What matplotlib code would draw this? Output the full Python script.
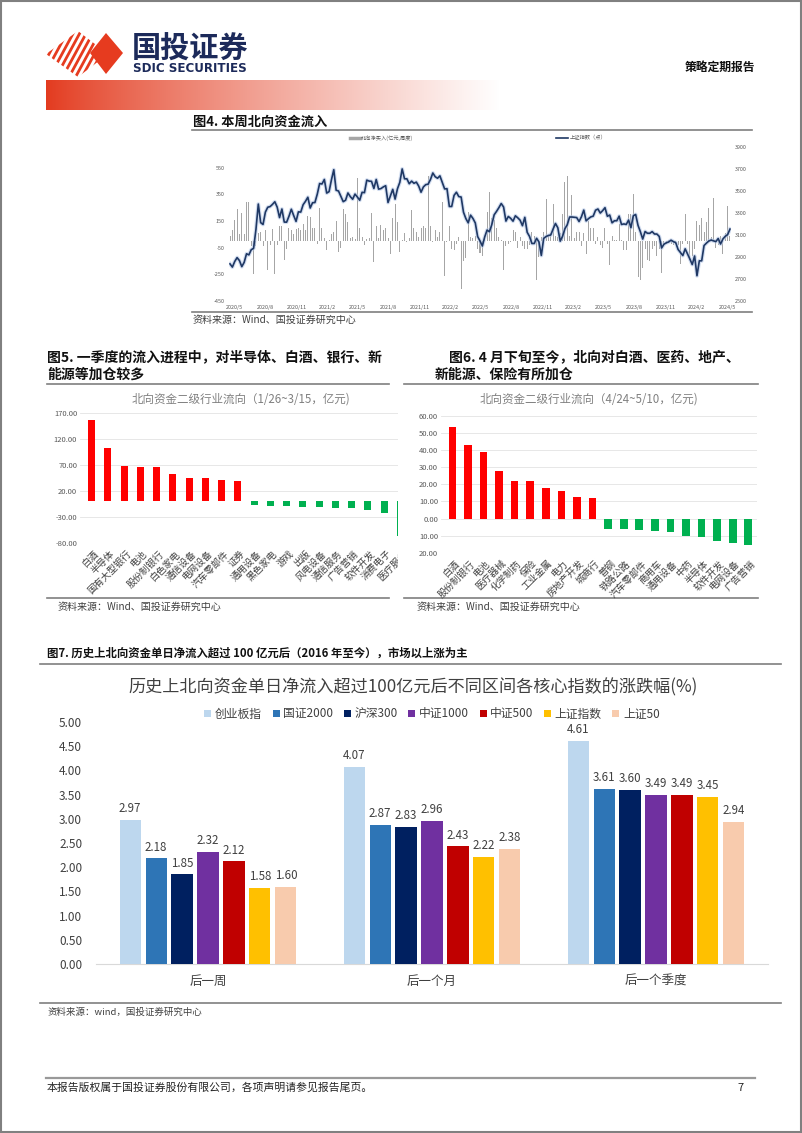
import numpy as np
import pandas as pd
import matplotlib
matplotlib.use('Agg')
import matplotlib.pyplot as plt
from matplotlib.patches import Polygon, Rectangle
from matplotlib.transforms import Bbox, TransformedBbox, blended_transform_factory
from matplotlib.ticker import FuncFormatter

plt.rcParams['font.family'] = ['Noto Sans CJK SC', 'DejaVu Sans']
plt.rcParams['axes.unicode_minus'] = False

W, H = 802, 1133

# ---------------- data ----------------
# fig4: weekly, starting 2020-04-17
sh_index = [
    # 2020
    2838, 2809, 2860, 2895, 2868, 2813, 2852, 2930, 2920, 2967,
    2980, 3152, 3383, 3214, 3197, 3310, 3354, 3360, 3380, 3404,
    3355, 3260, 3338, 3219, 3218, 3272, 3336, 3278, 3225, 3312,
    3310, 3377, 3408, 3445, 3347, 3395, 3397,
    # 2021
    3473, 3570, 3566, 3607, 3483, 3496, 3603, 3696, 3509, 3502,
    3454, 3405, 3418, 3484, 3451, 3427, 3474, 3447, 3418, 3490,
    3487, 3601, 3592, 3590, 3525, 3607, 3519, 3524, 3539, 3550,
    3397, 3458, 3517, 3428, 3522, 3581, 3703, 3613, 3613, 3568,
    3592, 3572, 3583, 3547, 3491, 3539, 3560, 3564, 3607, 3666,
    3632, 3618, 3640,
    # 2022
    3579, 3521, 3523, 3361, 3361, 3462, 3491, 3451, 3447, 3309,
    3251, 3212, 3282, 3252, 3211, 3087, 3047, 3001, 3084, 3146,
    3131, 3195, 3285, 3316, 3350, 3388, 3356, 3228, 3270, 3253,
    3227, 3276, 3258, 3236, 3186, 3262, 3126, 3088, 3024, 3024,
    3071, 3038, 2915, 3070, 3087, 3097, 3101, 3156, 3206, 3167,
    3045, 3089,
    # 2023
    3158, 3195, 3265, 3265, 3263, 3260, 3224, 3267, 3328, 3230,
    3250, 3266, 3273, 3327, 3338, 3301, 3323, 3350, 3272, 3283,
    3212, 3231, 3231, 3273, 3197, 3202, 3197, 3237, 3168, 3276,
    3288, 3189, 3131, 3064, 3133, 3117, 3117, 3132, 3110, 3110,
    3088, 2983, 3017, 3030, 3038, 3054, 3041, 3031, 2969, 2942,
    2914, 2975,
    # 2024
    2929, 2882, 2832, 2910, 2730, 2866, 2866, 3005, 3027, 3046,
    3055, 3048, 3041, 3069, 3019, 3065, 3089, 3105, 3155,
]

north_flow = [
    35, 85, 155, 240, 50, 210, 50, 290, 290, -40,
    -245, -40, 60, 70, -40, 80, -220, -30, 90, -250,
    -30, 110, 110, -140, -60, 100, 80, 50, 90, 100,
    80, 130, 80, 190, 180, 100, 100, -20, 250, 100,
    20, -70, 5, 50, 70, 150, -80, -50, 240, 200,
    140, 20, 30, 15, 470, 100, 30, -30, 15, 25,
    210, -160, 110, 20, 120, 80, 100, 25, -100, 170,
    280, 140, -80, 10, 60, -10, 20, 230, 100, 70,
    30, 100, 110, 100, 485, 110, -10, 80, 30, 70,
    290, -260, -10, 110, -60, -70, -20, 30, -360, -150,
    -130, 220, 30, 20, 40, -60, -90, -110, 30, 220,
    368, 170, 160, 100, 30, 10, -220, -40, -20, -10,
    80, 70, -50, 30, -40, -60, -60, -30, 70, 40,
    -290, -120, 30, 70, 318, 40, 60, 280, 40, 30,
    60, 200, 440, 487, 40, 345, 20, 70, 70, -40,
    60, -100, 150, 100, 100, -20, 30, -30, -50, 100,
    -20, -180, 40, 10, 10, 130, 10, -70, -70, 200,
    200, 350, 70, -270, -290, -200, -60, -140, -150, -60,
    -40, -110, -60, -240, -40, -20, 10, -20, -30, -20,
    -30, -170, -20, 200, -20, -140, -110, -60, 150, 120,
    170, 70, 140, 245, 30, 325, -50, -30, 40, -100,
    60, 262, 40,
]

ind5 = ['白酒', '半导体', '国有大型银行', '电池', '股份制银行', '白色家电', '通信设备',
        '电网设备', '汽车零部件', '证券', '通用设备', '黑色家电', '游戏', '出版',
        '风电设备', '通信服务', '广告营销', '软件开发', '消费电子', '医疗服务']
flow5 = [157, 103, 69, 67, 66, 53, 46, 45, 41, 39,
         -6, -8, -9, -11, -11, -12, -13, -17, -23, -67]

ind6 = ['白酒', '股份制银行', '电池', '医疗器械', '化学制药', '保险', '工业金属', '电力',
        '房地产开发', '城商行', '普钢', '铁路公路', '汽车零部件', '商用车', '通用设备',
        '中药', '半导体', '软件开发', '电网设备', '广告营销']
flow6 = [53.7, 43.3, 39.2, 27.7, 22.0, 21.8, 18.0, 16.2, 12.7, 12.1,
         -6.2, -6.4, -7.0, -7.2, -7.6, -10.0, -11.0, -12.9, -14.6, -15.6]

periods7 = ['后一周', '后一个月', '后一个季度']
index7 = ['创业板指', '国证2000', '沪深300', '中证1000', '中证500', '上证指数', '上证50']
chg7 = [
    [2.97, 4.07, 4.61],
    [2.18, 2.87, 3.61],
    [1.85, 2.83, 3.60],
    [2.32, 2.96, 3.49],
    [2.12, 2.43, 3.49],
    [1.58, 2.22, 3.45],
    [1.60, 2.38, 2.94],
]
colors7 = ['#BDD7EE', '#2E75B6', '#002060', '#7030A0', '#C00000', '#FFC000', '#F8CBAD']


def box(x0, y0, x1, y1):
    return [x0 / W, 1 - y1 / H, (x1 - x0) / W, (y1 - y0) / H]


def rot_labels(ax, names, size, clip_x=None):
    # rotated category labels, drawn by hand so they can be clipped
    tr = blended_transform_factory(ax.transData, ax.transAxes)
    for i, name in enumerate(names):
        t = ax.text(i + 0.15, -0.045, name, transform=tr, rotation=45, ha='right', va='top',
                    rotation_mode='anchor', fontsize=size, color='#404040', clip_on=False)
        if clip_x is not None:
            t.set_clip_on(True)
            t.set_clip_box(TransformedBbox(Bbox([[0, 0], [clip_x / W, 1]]), fig.transFigure))


fig = plt.figure(figsize=(W / 100, H / 100), dpi=100)

# page layer in pixel coords
bg = fig.add_axes([0, 0, 1, 1])
bg.set_xlim(0, W)
bg.set_ylim(H, 0)
bg.axis('off')
bg.set_zorder(-5)

bg.add_patch(Rectangle((0.8, 0.8), W - 1.6, H - 1.6, fill=False, edgecolor='#808080', lw=1.5))

# logo
red = '#E63B1F'
clip = Polygon([(46, 54), (78, 31), (108, 54), (78, 77)], closed=True, transform=bg.transData)
for i in range(9):
    xb = 36 + 6.5 * i
    ln, = bg.plot([xb, xb + 26], [78, 30], color=red, lw=2.0, solid_capstyle='butt')
    ln.set_clip_path(clip)
bg.add_patch(Polygon([(90, 53), (106, 33), (123, 53), (106, 74)], closed=True, color=red, lw=0))
bg.text(132, 49, '国投证券', fontsize=21, fontweight='bold', color='#1C2A5A', va='center', ha='left')
bg.text(133, 68.5, 'SDIC SECURITIES', fontsize=8.6, fontweight='bold', color='#1C2A5A',
        va='center', ha='left', family='DejaVu Sans')
bg.text(755, 67, '策略定期报告', fontsize=8.5, color='#111111', ha='right', va='center', fontweight='bold')

# gradient bar
t = np.linspace(0, 1, 400) ** 0.85
grad = np.ones((1, 400, 3))
start = np.array([0.89, 0.23, 0.12])
for k in range(3):
    grad[0, :, k] = start[k] + (1 - start[k]) * t
bg.imshow(grad, extent=(46, 500, 110, 80), aspect='auto', interpolation='bilinear')
bg.set_xlim(0, W)
bg.set_ylim(H, 0)

line_col = '#7F7F7F'
src_col = '#404040'

# ---------------- fig4 ----------------
bg.text(193, 122, '图4. 本周北向资金流入', fontsize=9.5, fontweight='bold', va='center', color='#111111')
bg.plot([192, 752], [130, 130], color=line_col, lw=1.2)
bg.plot([192, 752], [312, 312], color=line_col, lw=1.2)
bg.text(193, 320, '资料来源：Wind、国投证券研究中心', fontsize=7.2, va='center', color=src_col, style='italic')
bg.plot([350, 360], [138, 138], color='#A6A6A6', lw=2.5)
bg.text(361, 138, '北向净买入(亿元,周度)', fontsize=3.8, va='center', color='#595959')
bg.plot([556, 568], [138, 138], color='#1F3864', lw=1.2)
bg.text(570, 138, '上证指数（点）', fontsize=3.8, va='center', color='#595959')

dates = pd.date_range('2020-04-17', periods=len(sh_index), freq='7D')
fdates = pd.date_range('2020-04-17', periods=len(north_flow), freq='7D')

ax4 = fig.add_axes(box(229, 147.3, 731, 301))
ax4.bar(fdates, north_flow, width=3, color='#A6A6A6', lw=0)
ax4.set_ylim(-450, 703)
ax4.set_yticks([-450, -250, -50, 150, 350, 550])
ax4r = ax4.twinx()
ax4r.plot(dates, sh_index, color='#B4C7E7', lw=2.8, alpha=0.6)
ax4r.plot(dates, sh_index, color='#1F3864', lw=1.2)
ax4r.set_ylim(2500, 3900)
ax4r.set_yticks(range(2500, 3901, 200))
ax4.set_xlim(dates[0] - pd.Timedelta(days=3), dates[-1] + pd.Timedelta(days=3))
xt = pd.date_range('2020-05-01', '2024-05-01', freq='3MS')
ax4.set_xticks(xt)
ax4.set_xticklabels([f'{d.year}/{d.month}' for d in xt])
for a in (ax4, ax4r):
    for s in a.spines.values():
        s.set_visible(False)
    a.tick_params(length=0, labelsize=3.9, colors='#595959', pad=3)
ax4.patch.set_alpha(0)

# ---------------- fig5 ----------------
bg.text(47, 357, '图5. 一季度的流入进程中，对半导体、白酒、银行、新', fontsize=10, fontweight='bold', va='center', color='#111111')
bg.text(47, 375, '能源等加仓较多', fontsize=10, fontweight='bold', va='center', color='#111111')
bg.plot([47, 389], [383.5, 383.5], color=line_col, lw=1.2)
bg.plot([47, 389], [598, 598], color=line_col, lw=1.2)
bg.text(58, 606.5, '资料来源：Wind、国投证券研究中心', fontsize=7.2, va='center', color=src_col, style='italic')
bg.text(241, 399, '北向资金二级行业流向（1/26~3/15，亿元)', fontsize=8.3, va='center', ha='center', color='#808080')

ax5 = fig.add_axes(box(80, 413.3, 398, 543))
x5 = np.arange(len(flow5))
ax5.bar(x5, flow5, width=0.43, color=['#FF0000' if v > 0 else '#00B050' for v in flow5], zorder=3)
ax5.set_ylim(-80, 170)
ax5.set_yticks([170, 120, 70, 20, -30, -80])
ax5.yaxis.set_major_formatter(FuncFormatter(lambda v, p: f'{v:.2f}'))
ax5.set_xlim(-0.72, 18.85)
ax5.set_xticks([])
rot_labels(ax5, ind5, 6.8, clip_x=398)
ax5.grid(axis='y', color='#E3E3E3', lw=0.6, zorder=0)
for s in ax5.spines.values():
    s.set_visible(False)
ax5.tick_params(axis='y', length=0, labelsize=5.5, colors='#595959', pad=2)

# ---------------- fig6 ----------------
bg.text(449, 357, '图6. 4 月下旬至今，北向对白酒、医药、地产、', fontsize=10, fontweight='bold', va='center', color='#111111')
bg.text(435, 375, '新能源、保险有所加仓', fontsize=10, fontweight='bold', va='center', color='#111111')
bg.plot([404, 758], [383.5, 383.5], color=line_col, lw=1.2)
bg.plot([404, 758], [598, 598], color=line_col, lw=1.2)
bg.text(417, 606.5, '资料来源：Wind、国投证券研究中心', fontsize=7.2, va='center', color=src_col, style='italic')
bg.text(589, 399, '北向资金二级行业流向（4/24~5/10，亿元)', fontsize=8.3, va='center', ha='center', color='#808080')

ax6 = fig.add_axes(box(441, 416, 757, 552.7))
x6 = np.arange(len(flow6))
ax6.bar(x6, flow6, width=0.49, color=['#FF0000' if v > 0 else '#00B050' for v in flow6], zorder=3)
ax6.set_ylim(-20, 60)
ax6.set_yticks(range(-20, 61, 10))
ax6.yaxis.set_major_formatter(FuncFormatter(lambda v, p: f'{abs(v):.2f}'))
ax6.set_xlim(-0.73, 19.56)
ax6.set_xticks([])
rot_labels(ax6, ind6, 6.8)
ax6.grid(axis='y', color='#E3E3E3', lw=0.6, zorder=0)
for s in ax6.spines.values():
    s.set_visible(False)
ax6.tick_params(axis='y', length=0, labelsize=5.5, colors='#595959', pad=2)

# ---------------- fig7 ----------------
bg.text(47, 653, '图7. 历史上北向资金单日净流入超过 100 亿元后（2016 年至今），市场以上涨为主',
        fontsize=8.2, fontweight='bold', va='center', color='#111111')
bg.plot([40, 781], [664, 664], color=line_col, lw=1.2)
bg.plot([40, 781], [1003, 1003], color=line_col, lw=1.2)
bg.text(47, 1012, '资料来源：wind，国投证券研究中心', fontsize=6.8, va='center', color=src_col, style='italic')
bg.text(413, 687, '历史上北向资金单日净流入超过100亿元后不同区间各核心指数的涨跌幅(%)',
        fontsize=12.3, va='center', ha='center', color='#404040')

ax7 = fig.add_axes(box(96, 722, 768, 964))
xg = np.arange(len(periods7))
step = 0.116
for j, name in enumerate(index7):
    xs = xg + (j - 3) * step
    ax7.bar(xs, chg7[j], width=0.094, color=colors7[j], label=name, zorder=3)
    for xx, v in zip(xs, chg7[j]):
        ax7.text(xx, v + 0.1, f'{v:.2f}', ha='center', va='bottom', fontsize=8.3, color='#404040')
ax7.set_ylim(0, 5)
ax7.set_yticks(np.arange(0, 5.01, 0.5))
ax7.yaxis.set_major_formatter(FuncFormatter(lambda v, p: f'{v:.2f}'))
ax7.set_xlim(-0.5, 2.5)
ax7.set_xticks(xg)
ax7.set_xticklabels(periods7)
for s in ax7.spines.values():
    s.set_visible(False)
ax7.spines['bottom'].set_visible(True)
ax7.spines['bottom'].set_color('#D9D9D9')
ax7.tick_params(axis='y', length=0, labelsize=8.5, colors='#404040', pad=10)
ax7.tick_params(axis='x', length=0, labelsize=9, colors='#404040', pad=8)
ax7.legend(ncol=7, loc='center', bbox_to_anchor=(432 / W, 1 - 714 / H), bbox_transform=fig.transFigure,
           frameon=False, fontsize=8.5, handlelength=0.6, handleheight=0.6, handletextpad=0.3,
           columnspacing=0.9, labelcolor='#404040')

# ---------------- footer ----------------
bg.plot([46, 755], [1078, 1078], color='#999999', lw=1.6)
bg.text(47, 1088, '本报告版权属于国投证券股份有限公司，各项声明请参见报告尾页。', fontsize=7.8, va='center', color='#222222')
bg.text(741, 1088, '7', fontsize=8, va='center', ha='center', color='#222222')

fig.savefig('out.png', dpi=100)
